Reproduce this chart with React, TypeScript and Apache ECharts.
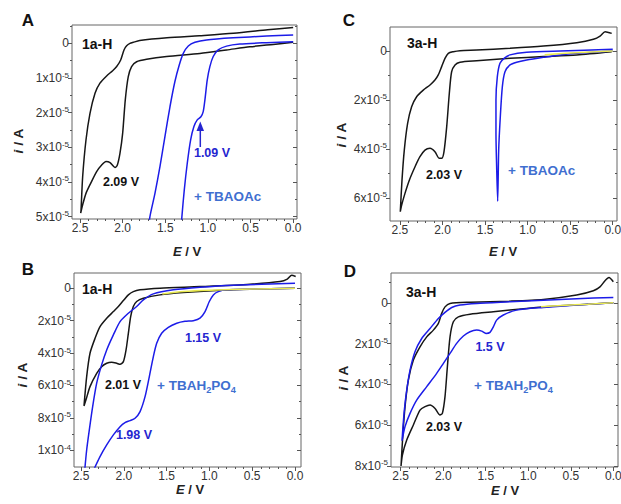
import React, { useEffect, useRef } from "react";
import * as echarts from "echarts";

type Pt = [number, number];

// ---------- tick values ----------
const xMajor = [0, 0.5, 1, 1.5, 2, 2.5];
const xMinor = [0.1, 0.2, 0.3, 0.4, 0.6, 0.7, 0.8, 0.9, 1.1, 1.2, 1.3, 1.4, 1.6, 1.7, 1.8, 1.9, 2.1, 2.2, 2.3, 2.4];
const yMajorA = [0, 1, 2, 3, 4, 5];
const yMinorA = [-0.5, 0.5, 1.5, 2.5, 3.5, 4.5];
const yMajorB = [0, 2, 4, 6, 8, 10];
const yMinorB = [1, 3, 5, 7, 9];
const yMajorC = [0, 2, 4, 6];
const yMinorC = [1, 3, 5];
const yMajorD = [0, 2, 4, 6, 8];
const yMinorD = [-1, 1, 3, 5, 7];

// ---------- data: [E (V), i (10^-5 A)] ----------
const aBlack: Pt[] = [
  [0.0, -0.46], [0.3, -0.39], [0.7, -0.29], [1.1, -0.22], [1.48, -0.16], [1.8, -0.08], [1.875, -0.03], [1.914, 0],
  [1.953, 0.07], [1.984, 0.19], [2.023, 0.48], [2.07, 0.67], [2.117, 0.79], [2.188, 0.94], [2.266, 1.15], [2.324, 1.44],
  [2.383, 2.02], [2.43, 2.79], [2.469, 3.85], [2.488, 4.81], [2.492, 4.9],
  [2.469, 4.66], [2.43, 4.33], [2.375, 4.04], [2.305, 3.7], [2.246, 3.51], [2.195, 3.41], [2.148, 3.44], [2.09, 3.58],
  [2.063, 3.52], [2.031, 3.17], [2.0, 2.6], [1.969, 1.63], [1.934, 0.96], [1.895, 0.67], [1.836, 0.53], [1.719, 0.46],
  [1.484, 0.38], [1.094, 0.29], [0.781, 0.19], [0.508, 0.1], [0.234, 0.03], [0.0, -0.03],
];
const aBlueFwd: Pt[] = [
  [0.0, -0.05], [0.3125, -0.02], [0.625, 0.02], [0.781, 0.08], [0.879, 0.19], [0.9375, 0.38], [0.977, 0.67],
  [1.008, 1.06], [1.035, 1.63], [1.055, 1.97], [1.082, 2.12], [1.125, 2.21], [1.164, 2.4], [1.203, 2.79],
  [1.242, 3.46], [1.277, 4.23], [1.305, 5.0], [1.315, 5.4],
];
const aBlueRev: Pt[] = [
  [1.698, 5.4], [1.68, 5.0], [1.621, 4.33], [1.5625, 3.56], [1.504, 2.69], [1.445, 1.83], [1.387, 1.1], [1.336, 0.625],
  [1.289, 0.29], [1.23, 0.077], [1.152, -0.03], [1.016, -0.1], [0.703, -0.16], [0.3125, -0.21], [0.0, -0.24],
];

const cBlack: Pt[] = [
  [0.012, -0.72], [0.09, -0.79], [0.149, -0.61], [0.227, -0.48], [0.423, -0.34], [0.815, -0.2], [1.207, -0.11],
  [1.599, -0.04], [1.795, -0.014], [1.873, 0.03], [1.932, 0.095], [1.971, 0.3], [2.01, 0.64], [2.05, 0.98],
  [2.089, 1.19], [2.147, 1.39], [2.226, 1.6], [2.304, 1.87], [2.363, 2.28], [2.41, 2.96], [2.449, 4.05],
  [2.476, 5.28], [2.496, 6.57],
  [2.48, 6.3], [2.441, 5.82], [2.39, 5.28], [2.323, 4.73], [2.265, 4.32], [2.206, 4.05], [2.147, 3.98], [2.089, 4.12],
  [2.038, 4.39], [2.01, 4.39], [1.983, 4.12], [1.951, 3.1], [1.92, 1.73], [1.893, 0.85], [1.853, 0.57], [1.795, 0.46],
  [1.599, 0.4], [1.207, 0.3], [0.815, 0.23], [0.423, 0.16], [0.012, 0.03],
];
const cBlue: Pt[] = [
  [0.0, 0.0], [0.423, 0.095], [0.619, 0.16], [0.815, 0.26], [1.011, 0.37], [1.129, 0.46], [1.207, 0.57],
  [1.266, 0.85], [1.297, 1.46], [1.321, 2.69], [1.34, 4.05], [1.352, 6.14],
  [1.364, 4.73], [1.372, 3.37], [1.372, 2.0], [1.356, 1.05], [1.325, 0.5], [1.277, 0.3], [1.207, 0.16],
  [1.011, 0.055], [0.619, 0.0], [0.0, -0.07],
];
const cYellow: Pt[] = [[0.0, 0.0], [0.25, 0.04], [0.5, 0.08], [0.8, 0.15]];

const bBlack: Pt[] = [
  [-0.008, -0.72], [0.039, -0.8], [0.09, -0.56], [0.175, -0.41], [0.526, -0.25], [1.11, -0.1], [1.577, 0.0],
  [1.811, 0.1], [1.889, 0.21], [1.947, 0.41], [2.005, 0.76], [2.064, 1.13], [2.122, 1.44], [2.2, 1.85],
  [2.278, 2.37], [2.336, 3.09], [2.395, 4.01], [2.434, 5.45], [2.465, 7.26],
  [2.442, 6.89], [2.395, 6.07], [2.317, 5.25], [2.259, 4.84], [2.2, 4.63], [2.142, 4.57], [2.083, 4.63],
  [2.044, 4.69], [2.005, 4.53], [1.974, 3.81], [1.947, 2.78], [1.92, 1.75], [1.889, 1.13], [1.85, 0.82],
  [1.772, 0.62], [1.577, 0.41], [1.305, 0.27], [0.915, 0.14], [0.526, 0.06], [0.0, 0.0],
];
const bBlueFwd: Pt[] = [
  [0.0, 0.0], [0.526, 0.06], [0.8, 0.1], [0.896, 0.21], [0.954, 0.41], [1.001, 0.82], [1.051, 1.44], [1.11, 1.85],
  [1.188, 2.0], [1.285, 2.04], [1.382, 2.16], [1.48, 2.41], [1.558, 2.78], [1.616, 3.4], [1.655, 4.22],
  [1.702, 5.45], [1.752, 6.69], [1.81, 7.61], [1.869, 8.02], [1.928, 8.17], [1.986, 8.29], [2.044, 8.54],
  [2.122, 9.05], [2.2, 9.67], [2.278, 10.39], [2.36, 11.3],
];
const bBlueRev: Pt[] = [
  [2.458, 11.3], [2.434, 9.98], [2.403, 8.74], [2.364, 7.3], [2.317, 5.86], [2.259, 4.73], [2.2, 3.81],
  [2.122, 2.88], [2.044, 2.06], [1.947, 1.54], [1.85, 1.13], [1.772, 0.72], [1.655, 0.35], [1.421, 0.1],
  [1.11, -0.06], [0.72, -0.19], [0.0, -0.31],
];
const bYellow: Pt[] = [[0.0, 0.0], [0.5, 0.05], [1.0, 0.12], [1.3, 0.2], [1.55, 0.35]];

const dBlack: Pt[] = [
  [0.0, -1.03], [0.051, -1.24], [0.098, -1.08], [0.157, -0.78], [0.235, -0.59], [0.431, -0.38], [0.823, -0.16],
  [1.215, -0.08], [1.685, -0.03], [1.92, 0.03], [1.979, 0.2], [2.018, 0.52], [2.057, 1.01], [2.116, 1.34],
  [2.194, 1.67], [2.273, 2.16], [2.351, 2.81], [2.41, 3.79], [2.449, 5.09], [2.476, 6.56], [2.496, 8.0],
  [2.48, 7.46], [2.429, 6.73], [2.351, 5.99], [2.273, 5.26], [2.214, 5.09], [2.155, 5.01], [2.096, 5.18],
  [2.038, 5.5], [2.01, 5.42], [1.979, 4.6], [1.951, 3.13], [1.92, 1.67], [1.881, 0.93], [1.822, 0.69],
  [1.685, 0.56], [1.411, 0.44], [1.019, 0.28], [0.627, 0.15], [0.0, 0.0],
];
const dBlue: Pt[] = [
  [0.0, 0.0], [0.431, 0.11], [0.823, 0.23], [1.137, 0.36], [1.293, 0.6], [1.372, 0.85], [1.411, 1.18],
  [1.45, 1.45], [1.497, 1.5], [1.548, 1.39], [1.607, 1.34], [1.685, 1.42], [1.763, 1.63], [1.842, 1.99],
  [1.92, 2.48], [1.998, 2.97], [2.077, 3.46], [2.194, 4.11], [2.312, 4.77], [2.39, 5.42], [2.449, 6.07],
  [2.484, 6.76],
  [2.476, 6.24], [2.457, 5.26], [2.429, 4.28], [2.39, 3.3], [2.332, 2.4], [2.253, 1.75], [2.155, 1.26],
  [2.057, 0.77], [1.979, 0.47], [1.9, 0.23], [1.802, 0.11], [1.607, 0.03], [1.215, -0.05], [0.823, -0.13],
  [0.431, -0.2], [0.0, -0.26],
];
const dYellow: Pt[] = [[0.0, 0.0], [0.3, 0.07], [0.6, 0.13], [0.85, 0.2]];

// ---------- styling ----------
const BLACK = "#161616";
const BLUE = "#1c1ce8";
const YELLOW = "#e8e84e";
const LABEL_BLUE = "#2525d0";
const NOTE_BLUE = "#3f6fd0";
const FONT = '"Liberation Sans", Arial, sans-serif';

function expLabel(v: number): string {
  if (v === 0) return "0";
  if (v >= 10) return `${v / 10}x10{s|-4}`;
  return `${v}x10{s|-5}`;
}

export default function App() {
  const ref = useRef<HTMLDivElement>(null);

  useEffect(() => {
    document.body.style.margin = "0";
    if (!ref.current) return;
    const chart = echarts.init(ref.current, undefined, { renderer: "svg" });

    const panels = [
      { grid: { left: 72, top: 25, width: 225, height: 194 }, x: [-0.045, 2.594], y: [-0.53, 5.07], yMajor: yMajorA, yMinor: yMinorA },
      { grid: { left: 390, top: 27, width: 227, height: 194 }, x: [-0.05, 2.617], y: [-0.98, 6.95], yMajor: yMajorC, yMinor: yMinorC },
      { grid: { left: 74, top: 273, width: 227, height: 194 }, x: [-0.07, 2.582], y: [-0.94, 11.03], yMajor: yMajorB, yMinor: yMinorB },
      { grid: { left: 391, top: 273, width: 227, height: 194 }, x: [-0.055, 2.614], y: [-1.46, 8.05], yMajor: yMajorD, yMinor: yMinorD },
    ];

    const grids: any[] = [];
    const xAxes: any[] = [];
    const yAxes: any[] = [];
    const axisLineStyle = { color: "#555", width: 1 };
    const noLine = { show: false, onZero: false };

    panels.forEach((p, gi) => {
      grids.push({
        ...p.grid,
        show: true,
        borderColor: "#666",
        borderWidth: 1,
        backgroundColor: "transparent",
        containLabel: false,
        outerBoundsMode: "none",
      });
      const xBase = { gridIndex: gi, type: "value", inverse: true, min: p.x[0], max: p.x[1], position: "bottom", splitLine: { show: false }, axisLine: noLine };
      xAxes.push({
        ...xBase,
        axisTick: { show: true, customValues: xMajor, length: 4, inside: false, lineStyle: axisLineStyle },
        axisLabel: { show: true, customValues: xMajor, formatter: (v: number) => v.toFixed(1), fontSize: 12, color: "#333", fontFamily: FONT, margin: 3 },
      });
      xAxes.push({
        ...xBase,
        axisTick: { show: true, customValues: xMinor, length: 2, inside: false, lineStyle: axisLineStyle },
        axisLabel: { show: false },
      });
      const yBase = { gridIndex: gi, type: "value", inverse: true, min: p.y[0], max: p.y[1], splitLine: { show: false }, axisLine: noLine };
      yAxes.push({
        ...yBase,
        position: "left",
        axisTick: { show: true, customValues: p.yMajor, length: 4, inside: false, lineStyle: axisLineStyle },
        axisLabel: {
          show: true,
          customValues: p.yMajor,
          formatter: expLabel,
          fontSize: 12,
          lineHeight: 14,
          color: "#333",
          fontFamily: FONT,
          margin: 3,
          rich: { s: { fontSize: 8, lineHeight: 14, verticalAlign: "top", color: "#333", fontFamily: FONT } },
        },
      });
      yAxes.push({
        ...yBase,
        position: "left",
        axisTick: { show: true, customValues: p.yMinor, length: 2, inside: false, lineStyle: axisLineStyle },
        axisLabel: { show: false },
      });
      yAxes.push({
        ...yBase,
        position: "right",
        axisTick: { show: true, customValues: p.yMajor, length: 4, inside: true, lineStyle: axisLineStyle },
        axisLabel: { show: false },
      });
      yAxes.push({
        ...yBase,
        position: "right",
        axisTick: { show: true, customValues: p.yMinor, length: 2, inside: true, lineStyle: axisLineStyle },
        axisLabel: { show: false },
      });
    });

    const line = (gi: number, data: Pt[], color: string, width = 1.5, z = 2) => ({
      type: "line",
      xAxisIndex: gi * 2,
      yAxisIndex: gi * 4,
      data,
      showSymbol: false,
      symbol: "none",
      smooth: 0.25,
      clip: true,
      z,
      lineStyle: { color, width },
      silent: true,
    });

    const series = [
      line(0, aBlack, BLACK),
      line(0, aBlueFwd, BLUE),
      line(0, aBlueRev, BLUE),
      line(1, cBlack, BLACK),
      line(1, cBlue, BLUE),
      line(1, cYellow, YELLOW, 1.5, 3),
      line(2, bBlack, BLACK),
      line(2, bBlueFwd, BLUE),
      line(2, bBlueRev, BLUE),
      line(2, bYellow, YELLOW, 1.5, 3),
      line(3, dBlack, BLACK),
      line(3, dBlue, BLUE),
      line(3, dYellow, YELLOW, 1.5, 3),
    ];

    const txt = (text: string, x: number, y: number, size: number, color: string, align = "center", extra: any = {}) => ({
      type: "text",
      x,
      y,
      silent: true,
      z: 10,
      ...extra,
      style: {
        text,
        fill: color,
        font: `bold ${size}px ${FONT}`,
        fontSize: size,
        fontWeight: "bold",
        fontFamily: FONT,
        align,
        textAlign: align,
        verticalAlign: "middle",
        textVerticalAlign: "middle",
        ...(extra.style || {}),
      },
    });

    const italicRich = (size: number) => ({
      it: { fontStyle: "italic", fontWeight: "bold", fontSize: size, fontFamily: FONT, fill: "#222" },
      n: { fontWeight: "bold", fontSize: size, fontFamily: FONT, fill: "#222" },
    });
    const subRich = (size: number) => ({
      n: { fontWeight: "bold", fontSize: size, fontFamily: FONT, fill: NOTE_BLUE, lineHeight: 18 },
      sub: { fontWeight: "bold", fontSize: size * 0.68, fontFamily: FONT, fill: NOTE_BLUE, lineHeight: 18, verticalAlign: "bottom" },
    });

    const graphics: any[] = [
      // panel letters
      txt("A", 28, 20, 17, "#111"),
      txt("C", 349, 20, 17, "#111"),
      txt("B", 28, 269, 17, "#111"),
      txt("D", 350, 271, 17, "#111"),
      // compound labels
      txt("1a-H", 82, 44, 14, "#111", "left"),
      txt("3a-H", 407, 43, 14, "#111", "left"),
      txt("1a-H", 82, 289, 14, "#111", "left"),
      txt("3a-H", 406, 292, 14, "#111", "left"),
      // peak labels
      txt("2.09 V", 121, 182, 12.5, "#111"),
      txt("1.09 V", 212, 153, 12.5, LABEL_BLUE),
      txt("2.03 V", 444, 175, 12.5, "#111"),
      txt("2.01 V", 123, 385, 12.5, "#111"),
      txt("1.15 V", 203, 338, 12.5, LABEL_BLUE),
      txt("1.98 V", 134, 435, 12.5, LABEL_BLUE),
      txt("1.5 V", 490, 347, 12.5, LABEL_BLUE),
      txt("2.03 V", 444, 427, 12.5, "#111"),
      // additive labels
      txt("+ TBAOAc", 194, 196, 13.5, NOTE_BLUE, "left"),
      txt("+ TBAOAc", 508, 170, 13.5, NOTE_BLUE, "left"),
      txt("{n|+ TBAH}{sub|2}{n|PO}{sub|4}", 157, 385, 13.5, NOTE_BLUE, "left", { style: { rich: subRich(13.5) } }),
      txt("{n|+ TBAH}{sub|2}{n|PO}{sub|4}", 474, 385, 13.5, NOTE_BLUE, "left", { style: { rich: subRich(13.5) } }),
      // axis titles
      txt("{it|i}{n| / A}", 18, 141, 13.5, "#222", "center", { rotation: Math.PI / 2, style: { rich: italicRich(13.5) } }),
      txt("{it|i}{n| / A}", 341, 135, 13.5, "#222", "center", { rotation: Math.PI / 2, style: { rich: italicRich(13.5) } }),
      txt("{it|i}{n| / A}", 22, 375, 13.5, "#222", "center", { rotation: Math.PI / 2, style: { rich: italicRich(13.5) } }),
      txt("{it|i}{n| / A}", 343, 378, 13.5, "#222", "center", { rotation: Math.PI / 2, style: { rich: italicRich(13.5) } }),
      txt("{it|E}{n| / V}", 187, 251, 13, "#222", "center", { style: { rich: italicRich(13) } }),
      txt("{it|E}{n| / V}", 503, 251, 13, "#222", "center", { style: { rich: italicRich(13) } }),
      txt("{it|E}{n| / V}", 190, 489, 13, "#222", "center", { style: { rich: italicRich(13) } }),
      txt("{it|E}{n| / V}", 505, 490, 13, "#222", "center", { style: { rich: italicRich(13) } }),
      // arrow in A
      { type: "line", silent: true, z: 10, shape: { x1: 200.3, y1: 147, x2: 200.3, y2: 129 }, style: { stroke: LABEL_BLUE, lineWidth: 1.5 } },
      { type: "polygon", silent: true, z: 10, shape: { points: [[196.5, 131], [204, 131], [200.3, 121.5]] }, style: { fill: LABEL_BLUE } },
    ];

    chart.setOption({
      animation: false,
      backgroundColor: "#fff",
      textStyle: { fontFamily: FONT },
      grid: grids,
      xAxis: xAxes,
      yAxis: yAxes,
      series,
      graphic: { elements: graphics },
    });

    return () => chart.dispose();
  }, []);

  return <div ref={ref} style={{ width: 621, height: 504 }} />;
}
